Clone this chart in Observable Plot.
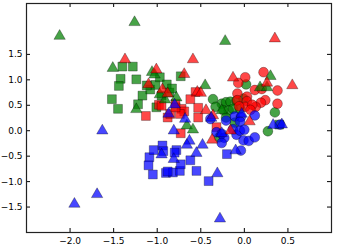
<!DOCTYPE html>
<html><head><meta charset="utf-8">
<script src="https://cdn.jsdelivr.net/npm/d3@7"></script>
<script src="https://cdn.jsdelivr.net/npm/@observablehq/plot@0.6"></script>
<style>body{margin:0;background:#fff;font-family:"DejaVu Sans";}</style>
</head><body><div id="chart"></div>
<script>
const xTicks = [-2.0, -1.5, -1.0, -0.5, 0.0, 0.5];
const yTicks = [-1.5, -1.0, -0.5, 0.0, 0.5, 1.0, 1.5];

const greenTriX = [-2.12,-1.26,-1.51,-1.24,-1.06,-0.22,0.30,0.18,0.26,-0.45,-0.78,-0.26,-0.66,-0.59,-1.03,-0.91,-0.97];
const greenTriY = [1.86,2.13,1.23,0.42,1.15,1.76,1.07,0.85,0.85,0.89,0.65,0.40,0.10,0.02,1.10,0.61,0.71];
const greenSqX = [-1.40,-1.28,-1.42,-1.24,-1.44,-1.52,-1.45,-1.17,-1.22,-1.08,-1.02,-0.97,-1.01,-0.89,-0.86,-0.73,-1.12,-0.95,-0.83,0.40];
const greenSqY = [1.26,1.26,1.02,1.01,0.88,0.62,0.43,0.69,0.52,0.81,0.90,1.05,0.46,0.91,0.75,1.07,0.89,0.69,0.83,0.12];
const greenCirX = [-0.36,0.02,0.35,-0.26,-0.21,-0.16,-0.09,-0.01,-0.24,-0.18,-0.13,-0.05,-0.21,-0.11,0.27,-0.29,-0.33];
const greenCirY = [0.62,0.91,0.36,0.53,0.56,0.57,0.59,0.63,0.40,0.40,0.43,0.43,0.26,0.16,-0.01,-0.13,0.47];

const redCirX = [0.22,0.01,-0.07,0.12,0.20,0.38,-0.08,0.03,-0.08,0.03,0.24,0.19,0.38,0.13,0.01,-0.06,0.09,0.07];
const redCirY = [1.15,1.05,0.94,0.80,0.82,0.79,0.73,0.67,0.60,0.58,0.60,0.55,0.53,0.47,0.47,0.48,0.51,0.41];
const redSqX = [-1.13,-0.88,-0.56,-0.62,-0.53,-0.79,-0.72,-0.69,-0.85,-0.73,-0.32,-0.98,-0.74,-0.79,-0.95,-0.53];
const redSqY = [0.29,0.26,0.76,0.62,0.45,0.53,0.43,0.38,0.33,-0.05,0.07,0.51,0.33,0.46,0.49,0.26];
const redTriX = [-1.37,0.35,-0.59,-0.69,-0.13,0.26,0.55,-0.54,-0.50,-0.44,-1.01,-1.10,-0.94,-0.37,-0.16,-0.36,0.06,-0.88];
const redTriY = [1.40,1.81,1.40,1.11,1.04,0.94,0.89,0.76,0.74,0.40,1.20,0.91,0.81,-0.18,0.00,0.30,0.18,0.73];

const blueTriX = [-1.63,-1.95,-1.69,-0.95,-0.28,-0.31,-0.48,-0.55,-0.63,-0.66,-0.81,-0.10,-0.81,-0.80,-0.87,-0.68,-0.38,-0.03,0.43,-0.26,0.33];
const blueTriY = [0.00,-1.44,-1.25,-0.47,-1.73,-0.84,-0.28,-0.44,-0.20,-0.28,-0.56,-0.39,0.00,0.51,0.33,0.23,0.25,0.33,0.12,-0.05,0.11];
const blueSqX = [-1.09,-1.04,-0.94,-0.93,-1.10,-1.05,-0.90,-0.82,-0.74,-0.73,-0.78,-0.80,-0.62,-0.55,-0.20,-0.41,-0.88];
const blueSqY = [-0.52,-0.38,-0.29,-0.40,-0.68,-0.86,-0.83,-0.82,-0.79,-0.66,-0.38,-0.43,-0.58,-0.79,-0.46,-0.99,-0.80];
const blueCirX = [-0.39,-0.11,-0.04,0.12,-0.21,-0.05,-0.32,-0.26,-0.23,-0.26,-0.13,-0.09,-0.05,0.00,-0.01,0.05,0.12,-0.04,0.41];
const blueCirY = [0.23,0.28,0.27,0.30,0.20,0.18,-0.03,-0.06,-0.14,-0.24,0.03,-0.08,0.00,0.02,-0.19,-0.20,-0.13,-0.39,0.12];

const colors = {red: "#ff0000", green: "#008000", blue: "#0000ff"};
const sizes = {square: 5.0, circle: 4.9, triangle: 4.2};

function pts(xs, ys) { return xs.map((x, i) => ({x, y: ys[i]})); }
function layer(xs, ys, color, symbol) {
  return Plot.dot(pts(xs, ys), {
    x: "x", y: "y", symbol: () => symbol, r: sizes[symbol],
    fill: colors[color], fillOpacity: 0.72,
    stroke: "#000", strokeOpacity: 0.3, strokeWidth: 1
  });
}

const W = 338, H = 250, mt = 3, mb = 18, ml = 26, mr = 7;
const innerH = H - mt - mb, innerW = W - ml - mr;
const fmt = d => d3.format(".1f")(d);

const chart = Plot.plot({
  width: W, height: H,
  marginTop: mt, marginBottom: mb, marginLeft: ml, marginRight: mr,
  style: {fontFamily: "DejaVu Sans", fontSize: "9px", background: "#fff", color: "#000"},
  x: {domain: [-2.5, 1.0]},
  y: {domain: [-2.0, 2.5]},
  symbol: {type: "identity"},
  marks: [
    layer(greenSqX, greenSqY, "green", "square"),
    layer(redSqX, redSqY, "red", "square"),
    layer(blueSqX, blueSqY, "blue", "square"),
    layer(greenCirX, greenCirY, "green", "circle"),
    layer(redCirX, redCirY, "red", "circle"),
    layer(blueCirX, blueCirY, "blue", "circle"),
    layer(greenTriX, greenTriY, "green", "triangle"),
    layer(redTriX, redTriY, "red", "triangle"),
    layer(blueTriX, blueTriY, "blue", "triangle"),
    Plot.tickX(xTicks, {x: d => d, insetTop: innerH - 4, stroke: "#000"}),
    Plot.tickX(xTicks, {x: d => d, insetBottom: innerH - 4, stroke: "#000"}),
    Plot.tickY(yTicks, {y: d => d, insetRight: innerW - 4, stroke: "#000"}),
    Plot.tickY(yTicks, {y: d => d, insetLeft: innerW - 4, stroke: "#000"}),
    Plot.axisX(xTicks, {tickSize: 0, tickPadding: 5, tickFormat: fmt, label: null}),
    Plot.axisY(yTicks, {tickSize: 0, tickPadding: 4, tickFormat: fmt, label: null}),
    Plot.frame({stroke: "#222", strokeWidth: 1.2})
  ]
});
document.getElementById("chart").appendChild(chart);
</script></body></html>
